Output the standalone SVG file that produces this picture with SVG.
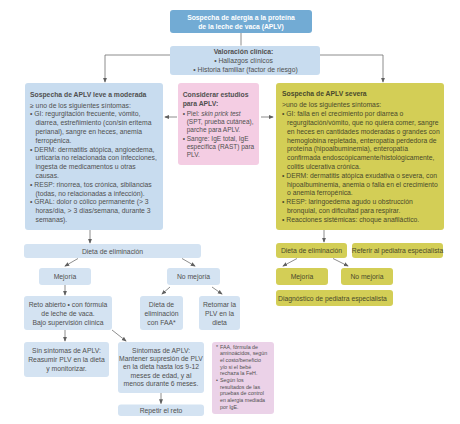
<svg xmlns="http://www.w3.org/2000/svg" width="460" height="424" viewBox="0 0 460 424">
<style>
text{font-family:"Liberation Sans",Arial,sans-serif;fill:#505050;font-size:6.8px}
.b{font-weight:bold}
.c{text-anchor:middle}
.w{fill:#fff}
.top{fill:#72abd4}
.lb{fill:#c8dcef}
.lb2{fill:#d4e3f2}
.pk{fill:#f4cde3}
.pk2{fill:#ebd2e8}
.yl{fill:#d3ce56}
.yt{fill:#4a4a2c}
.sm{font-size:5.3px}
.pt{font-size:6.5px}
.cn line,.cn polyline{stroke:#707070;stroke-width:0.8;fill:none}
</style>
<defs>
<marker id="ah" viewBox="0 0 6 6" refX="5" refY="3" markerWidth="5" markerHeight="5" orient="auto" markerUnits="userSpaceOnUse">
<path d="M0,0.6 L6,3 L0,5.4 z" fill="#606060"/>
</marker>
</defs>
<rect width="460" height="424" fill="#fff"/>

<g class="cn">
<line x1="241" y1="33" x2="241" y2="45.5"/>
<polyline points="170,55 105,55 105,82" marker-end="url(#ah)"/>
<polyline points="320,55 383,55 383,82" marker-end="url(#ah)"/>
<line x1="177" y1="117" x2="165" y2="117" marker-end="url(#ah)"/>
<line x1="261" y1="117" x2="273" y2="117" marker-end="url(#ah)"/>
<line x1="90" y1="230" x2="90" y2="243" marker-end="url(#ah)"/>
<line x1="78" y1="258.5" x2="65" y2="266" marker-end="url(#ah)"/>
<line x1="182" y1="258.5" x2="195" y2="266" marker-end="url(#ah)"/>
<line x1="65" y1="285" x2="65" y2="295" marker-end="url(#ah)"/>
<line x1="170" y1="287" x2="162" y2="294" marker-end="url(#ah)"/>
<line x1="212" y1="287" x2="222" y2="294" marker-end="url(#ah)"/>
<line x1="65" y1="330" x2="65" y2="341" marker-end="url(#ah)"/>
<line x1="112" y1="330" x2="126" y2="341" marker-end="url(#ah)"/>
<line x1="161" y1="393" x2="161" y2="403.5" marker-end="url(#ah)"/>
<line x1="324" y1="230" x2="324" y2="242" marker-end="url(#ah)"/>
<line x1="297" y1="258.5" x2="283" y2="266" marker-end="url(#ah)"/>
<line x1="333" y1="258.5" x2="348" y2="266" marker-end="url(#ah)"/>
</g>

<g id="n-top">
<rect class="top" x="170" y="10" width="142" height="23" rx="3"/>
<text class="b c w" x="241" y="19.5" font-size="6.5">Sospecha de alergia a la proteína</text>
<text class="b c w" x="241" y="29" font-size="6.5">de la leche de vaca (APLV)</text>
</g>

<g id="n-valoracion">
<rect class="lb" x="170" y="46" width="150" height="29" rx="3"/>
<text class="b c" x="243.5" y="54">Valoración clínica:</text>
<text class="c" x="243.5" y="63.4">• Hallazgos clínicos</text>
<text class="c" x="245.5" y="72.2">• Historia familiar (factor de riesgo)</text>
</g>

<g id="n-leve">
<rect class="lb" x="25" y="83" width="138" height="147" rx="3"/>
<text class="b" x="30" y="96.5" font-size="6.6">Sospecha de APLV leve a moderada</text>
<text x="30" y="107.5">≥ uno de los siguientes síntomas:</text>
<text x="30" y="116.3">• GI: regurgitación frecuente, vómito,</text>
<text x="35.5" y="125.1">diarrea, estreñimiento (con/sin eritema</text>
<text x="35.5" y="133.9">perianal), sangre en heces, anemia</text>
<text x="35.5" y="142.7">ferropénica.</text>
<text x="30" y="151.5">• DERM: dermatitis atópica, angioedema,</text>
<text x="35.5" y="160.3">urticaria no relacionada con infecciones,</text>
<text x="35.5" y="169.1">ingesta de medicamentos u otras</text>
<text x="35.5" y="177.9">causas.</text>
<text x="30" y="186.7">• RESP: rinorrea, tos crónica, sibilancias</text>
<text x="35.5" y="195.5">(todas, no relacionadas a infección).</text>
<text x="30" y="204.3">• GRAL: dolor o cólico permanente (&gt; 3</text>
<text x="35.5" y="213.1">horas/día, &gt; 3 días/semana, durante 3</text>
<text x="35.5" y="221.9">semanas).</text>
</g>

<g id="n-estudios">
<rect class="pk" x="178" y="83" width="81" height="82" rx="3"/>
<text class="b" x="182.7" y="96.5" font-size="5.9">Considerar estudios</text>
<text class="b" x="182.7" y="106.3" font-size="5.9">para APLV:</text>
<text class="pt" x="182.7" y="115.6">• Piel: <tspan font-style="italic">skin prick test</tspan></text>
<text class="pt" x="186.7" y="124">(SPT, prueba cutánea),</text>
<text class="pt" x="186.7" y="132.3">parche para APLV.</text>
<text class="pt" x="182.7" y="140.6">• Sangre: IgE total, IgE</text>
<text class="pt" x="186.7" y="149">específica (RAST) para</text>
<text class="pt" x="186.7" y="157.3">PLV.</text>
</g>

<g id="n-severa">
<rect class="yl" x="276" y="83" width="168" height="147" rx="3"/>
<text class="b yt" x="282" y="95.7" font-size="6.6">Sospecha de APLV severa</text>
<text class="yt" x="282" y="107.4">&gt;uno de los siguientes síntomas:</text>
<text class="yt" x="282" y="116.2">• GI: falla en el crecimiento por diarrea o</text>
<text class="yt" x="287" y="125">regurgitación/vómito, que no quiera comer, sangre</text>
<text class="yt" x="287" y="133.8">en heces en cantidades moderadas o grandes con</text>
<text class="yt" x="287" y="142.6">hemoglobina repletada, enteropatía perdedora de</text>
<text class="yt" x="287" y="151.4">proteína (hipoalbuminemia), enteropatía</text>
<text class="yt" x="287" y="160.2">confirmada endoscópicamente/histológicamente,</text>
<text class="yt" x="287" y="169">colitis ulcerativa crónica.</text>
<text class="yt" x="282" y="177.8">• DERM: dermatitis atópica exudativa o severa, con</text>
<text class="yt" x="287" y="186.6">hipoalbuminemia, anemia o falla en el crecimiento</text>
<text class="yt" x="287" y="195.4">o anemia ferropénica.</text>
<text class="yt" x="282" y="204.2">• RESP: laringoedema agudo u obstrucción</text>
<text class="yt" x="287" y="213">bronquial, con dificultad para respirar.</text>
<text class="yt" x="282" y="221.8">• Reacciones sistémicas: choque anafiláctico.</text>
</g>

<g id="n-dieta-l">
<rect class="lb2" x="24" y="244" width="177" height="14" rx="3"/>
<text class="c" x="112.5" y="253.5">Dieta de eliminación</text>
</g>
<g id="n-mejoria-l">
<rect class="lb2" x="39" y="268" width="52" height="17" rx="3"/>
<text class="c" x="65" y="279">Mejoría</text>
</g>
<g id="n-nomejoria-l">
<rect class="lb2" x="167" y="268" width="53" height="17" rx="3"/>
<text class="c" x="193.5" y="279">No mejoría</text>
</g>
<g id="n-reto">
<rect class="lb2" x="24" y="296" width="88" height="34" rx="3"/>
<text class="c" x="68" y="306.5">Reto abierto • con fórmula</text>
<text class="c" x="68" y="315.5">de leche de vaca.</text>
<text class="c" x="68" y="324.5">Bajo supervisión clínica</text>
</g>
<g id="n-faa">
<rect class="lb2" x="140" y="296" width="43" height="34" rx="3"/>
<text class="c" x="161.5" y="306.5">Dieta de</text>
<text class="c" x="161.5" y="315.5">eliminación</text>
<text class="c" x="161.5" y="324.5">con FAA*</text>
</g>
<g id="n-retomar">
<rect class="lb2" x="199" y="296" width="41" height="34" rx="3"/>
<text class="c" x="219.5" y="306.5">Retomar la</text>
<text class="c" x="219.5" y="315.5">PLV en la</text>
<text class="c" x="219.5" y="324.5">dieta</text>
</g>
<g id="n-sin">
<rect class="lb2" x="24" y="342" width="85" height="35" rx="3"/>
<text class="c" x="66.5" y="353">Sin síntomas de APLV:</text>
<text class="c" x="66.5" y="362">Reasumir PLV en la dieta</text>
<text class="c" x="66.5" y="371">y monitorizar.</text>
</g>
<g id="n-sintomas">
<rect class="lb2" x="118" y="342" width="86" height="51" rx="3"/>
<text class="c" x="161" y="352.5">Síntomas de APLV:</text>
<text class="c" x="161" y="361">Mantener supresión de PLV</text>
<text class="c" x="161" y="369.4">en la dieta hasta los 9-12</text>
<text class="c" x="161" y="377.8">meses de edad, y al</text>
<text class="c" x="161" y="386.2">menos durante 6 meses.</text>
</g>
<g id="n-repetir">
<rect class="lb2" x="118" y="404.5" width="86" height="11.5" rx="3"/>
<text class="c" x="161" y="412.6">Repetir el reto</text>
</g>
<g id="n-nota">
<rect class="pk2" x="212" y="342" width="62" height="72" rx="3"/>
<text class="sm" x="216" y="348.5">*</text>
<text class="sm" x="220" y="348.5">FAA, fórmula de</text>
<text class="sm" x="220" y="355.2">aminoácidos, según</text>
<text class="sm" x="220" y="361.9">el costo/beneficio</text>
<text class="sm" x="220" y="368.6">y/o si el bebé</text>
<text class="sm" x="220" y="375.3">rechaza la FeH.</text>
<text class="sm" x="216" y="382">•</text>
<text class="sm" x="220" y="382">Según los</text>
<text class="sm" x="220" y="388.7">resultados de las</text>
<text class="sm" x="220" y="395.4">pruebas de control</text>
<text class="sm" x="220" y="402.1">en alergia mediada</text>
<text class="sm" x="220" y="408.8">por IgE.</text>
</g>

<g id="n-dieta-s">
<rect class="yl" x="276" y="243" width="71" height="15" rx="3"/>
<text class="c yt" x="311.5" y="253" font-size="6.5">Dieta de eliminación</text>
</g>
<g id="n-referir">
<rect class="yl" x="352" y="243" width="91" height="15" rx="3"/>
<text class="c yt" x="397.5" y="253" font-size="6.4">Referir al pediatra especialista</text>
</g>
<g id="n-mejoria-s">
<rect class="yl" x="276" y="268" width="52" height="17" rx="3"/>
<text class="c yt" x="302" y="279">Mejoría</text>
</g>
<g id="n-nomejoria-s">
<rect class="yl" x="341" y="268" width="52" height="17" rx="3"/>
<text class="c yt" x="367" y="279">No mejoría</text>
</g>
<g id="n-diag">
<rect class="yl" x="276" y="290" width="117" height="16" rx="3"/>
<text class="c yt" x="332.5" y="300.5" font-size="6.5">Diagnóstico de pediatra especialista</text>
</g>
</svg>
